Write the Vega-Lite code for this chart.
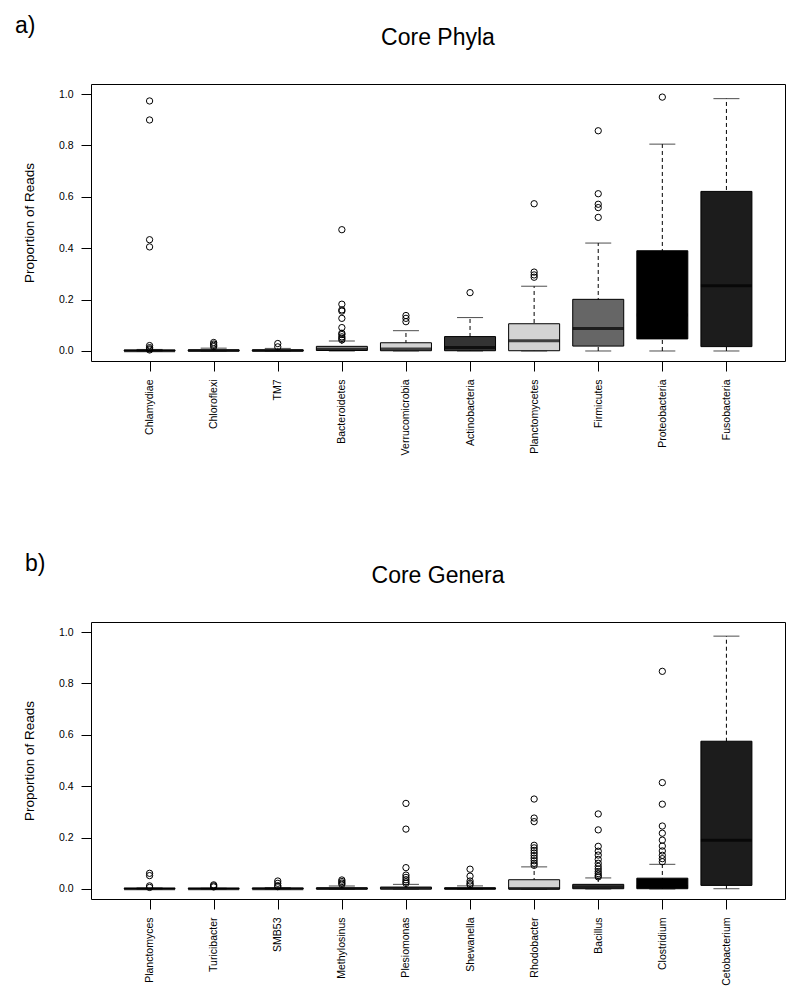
{
  "$schema": "https://vega.github.io/schema/vega-lite/v6.json",
  "padding": {"top": 14, "left": 14, "right": 5, "bottom": 5},
  "spacing": 96,
  "config": {
    "font": "Liberation Sans",
    "view": {"stroke": "black", "strokeWidth": 1},
    "axis": {"grid": false, "domain": false, "tickColor": "black", "tickSize": 10, "labelColor": "black", "titleColor": "black", "labelFont": "Liberation Sans", "labelFontSize": 10.5, "titleFont": "Liberation Sans", "titleFontWeight": "normal"},
    "title": {"fontSize": 23, "fontWeight": "normal", "color": "black", "font": "Liberation Sans"}
  },
  "datasets": {
    "boxA": [
      {"cat": "Chlamydiae", "lo": 0, "q1": 0, "med": 0.001, "q3": 0.003, "hi": 0.006, "color": "#555555"},
      {"cat": "Chloroflexi", "lo": 0, "q1": 0, "med": 0.002, "q3": 0.004, "hi": 0.011, "color": "#aaaaaa"},
      {"cat": "TM7", "lo": 0, "q1": 0, "med": 0.002, "q3": 0.004, "hi": 0.01, "color": "#888888"},
      {"cat": "Bacteroidetes", "lo": 0, "q1": 0.002, "med": 0.007, "q3": 0.018, "hi": 0.039, "color": "#999999"},
      {"cat": "Verrucomicrobia", "lo": 0, "q1": 0.001, "med": 0.008, "q3": 0.032, "hi": 0.079, "color": "#d3d3d3"},
      {"cat": "Actinobacteria", "lo": 0, "q1": 0.001, "med": 0.014, "q3": 0.056, "hi": 0.13, "color": "#333333"},
      {"cat": "Planctomycetes", "lo": 0, "q1": 0.001, "med": 0.04, "q3": 0.106, "hi": 0.252, "color": "#d3d3d3"},
      {"cat": "Firmicutes", "lo": 0, "q1": 0.019, "med": 0.087, "q3": 0.201, "hi": 0.42, "color": "#666666"},
      {"cat": "Proteobacteria", "lo": 0, "q1": 0.047, "med": 0.14, "q3": 0.39, "hi": 0.805, "color": "#000000"},
      {"cat": "Fusobacteria", "lo": 0, "q1": 0.017, "med": 0.254, "q3": 0.621, "hi": 0.982, "color": "#1c1c1c"}
    ],
    "outA": [
      {"cat": "Chlamydiae", "v": 0.973}, {"cat": "Chlamydiae", "v": 0.899}, {"cat": "Chlamydiae", "v": 0.433}, {"cat": "Chlamydiae", "v": 0.405}, {"cat": "Chlamydiae", "v": 0.021}, {"cat": "Chlamydiae", "v": 0.013}, {"cat": "Chlamydiae", "v": 0.008}, {"cat": "Chlamydiae", "v": 0.004},
      {"cat": "Chloroflexi", "v": 0.033}, {"cat": "Chloroflexi", "v": 0.027}, {"cat": "Chloroflexi", "v": 0.022}, {"cat": "Chloroflexi", "v": 0.017},
      {"cat": "TM7", "v": 0.029}, {"cat": "TM7", "v": 0.016},
      {"cat": "Bacteroidetes", "v": 0.472}, {"cat": "Bacteroidetes", "v": 0.182}, {"cat": "Bacteroidetes", "v": 0.16}, {"cat": "Bacteroidetes", "v": 0.155}, {"cat": "Bacteroidetes", "v": 0.127}, {"cat": "Bacteroidetes", "v": 0.091}, {"cat": "Bacteroidetes", "v": 0.069}, {"cat": "Bacteroidetes", "v": 0.064}, {"cat": "Bacteroidetes", "v": 0.055}, {"cat": "Bacteroidetes", "v": 0.049}, {"cat": "Bacteroidetes", "v": 0.043},
      {"cat": "Verrucomicrobia", "v": 0.138}, {"cat": "Verrucomicrobia", "v": 0.127}, {"cat": "Verrucomicrobia", "v": 0.114},
      {"cat": "Actinobacteria", "v": 0.227},
      {"cat": "Planctomycetes", "v": 0.573}, {"cat": "Planctomycetes", "v": 0.307}, {"cat": "Planctomycetes", "v": 0.296}, {"cat": "Planctomycetes", "v": 0.287},
      {"cat": "Firmicutes", "v": 0.857}, {"cat": "Firmicutes", "v": 0.612}, {"cat": "Firmicutes", "v": 0.571}, {"cat": "Firmicutes", "v": 0.558}, {"cat": "Firmicutes", "v": 0.52},
      {"cat": "Proteobacteria", "v": 0.988}
    ],
    "boxB": [
      {"cat": "Planctomyces", "lo": 0, "q1": 0, "med": 0.001, "q3": 0.002, "hi": 0.004, "color": "#555555"},
      {"cat": "Turicibacter", "lo": 0, "q1": 0, "med": 0.001, "q3": 0.002, "hi": 0.003, "color": "#aaaaaa"},
      {"cat": "SMB53", "lo": 0, "q1": 0, "med": 0.001, "q3": 0.003, "hi": 0.005, "color": "#888888"},
      {"cat": "Methylosinus", "lo": 0, "q1": 0, "med": 0.002, "q3": 0.004, "hi": 0.012, "color": "#999999"},
      {"cat": "Plesiomonas", "lo": 0, "q1": 0, "med": 0.003, "q3": 0.007, "hi": 0.018, "color": "#d3d3d3"},
      {"cat": "Shewanella", "lo": 0, "q1": 0, "med": 0.002, "q3": 0.004, "hi": 0.012, "color": "#333333"},
      {"cat": "Rhodobacter", "lo": 0, "q1": 0, "med": 0.002, "q3": 0.036, "hi": 0.086, "color": "#d3d3d3"},
      {"cat": "Bacillus", "lo": 0, "q1": 0.001, "med": 0.009, "q3": 0.018, "hi": 0.043, "color": "#666666"},
      {"cat": "Clostridium", "lo": 0, "q1": 0.001, "med": 0.01, "q3": 0.042, "hi": 0.096, "color": "#000000"},
      {"cat": "Cetobacterium", "lo": 0.001, "q1": 0.014, "med": 0.19, "q3": 0.575, "hi": 0.984, "color": "#1c1c1c"}
    ],
    "outB": [
      {"cat": "Planctomyces", "v": 0.061}, {"cat": "Planctomyces", "v": 0.052}, {"cat": "Planctomyces", "v": 0.012}, {"cat": "Planctomyces", "v": 0.006},
      {"cat": "Turicibacter", "v": 0.016}, {"cat": "Turicibacter", "v": 0.012}, {"cat": "Turicibacter", "v": 0.008},
      {"cat": "SMB53", "v": 0.031}, {"cat": "SMB53", "v": 0.022}, {"cat": "SMB53", "v": 0.013}, {"cat": "SMB53", "v": 0.009},
      {"cat": "Methylosinus", "v": 0.035}, {"cat": "Methylosinus", "v": 0.029}, {"cat": "Methylosinus", "v": 0.023}, {"cat": "Methylosinus", "v": 0.018},
      {"cat": "Plesiomonas", "v": 0.333}, {"cat": "Plesiomonas", "v": 0.233}, {"cat": "Plesiomonas", "v": 0.083}, {"cat": "Plesiomonas", "v": 0.054}, {"cat": "Plesiomonas", "v": 0.045}, {"cat": "Plesiomonas", "v": 0.036}, {"cat": "Plesiomonas", "v": 0.028}, {"cat": "Plesiomonas", "v": 0.022},
      {"cat": "Shewanella", "v": 0.077}, {"cat": "Shewanella", "v": 0.05}, {"cat": "Shewanella", "v": 0.031}, {"cat": "Shewanella", "v": 0.022}, {"cat": "Shewanella", "v": 0.016},
      {"cat": "Rhodobacter", "v": 0.35}, {"cat": "Rhodobacter", "v": 0.276}, {"cat": "Rhodobacter", "v": 0.262}, {"cat": "Rhodobacter", "v": 0.17}, {"cat": "Rhodobacter", "v": 0.16}, {"cat": "Rhodobacter", "v": 0.15}, {"cat": "Rhodobacter", "v": 0.14}, {"cat": "Rhodobacter", "v": 0.13}, {"cat": "Rhodobacter", "v": 0.12}, {"cat": "Rhodobacter", "v": 0.11}, {"cat": "Rhodobacter", "v": 0.1}, {"cat": "Rhodobacter", "v": 0.092},
      {"cat": "Bacillus", "v": 0.292}, {"cat": "Bacillus", "v": 0.23}, {"cat": "Bacillus", "v": 0.166}, {"cat": "Bacillus", "v": 0.147}, {"cat": "Bacillus", "v": 0.132}, {"cat": "Bacillus", "v": 0.115}, {"cat": "Bacillus", "v": 0.1}, {"cat": "Bacillus", "v": 0.088}, {"cat": "Bacillus", "v": 0.078}, {"cat": "Bacillus", "v": 0.068}, {"cat": "Bacillus", "v": 0.06}, {"cat": "Bacillus", "v": 0.052}, {"cat": "Bacillus", "v": 0.047},
      {"cat": "Clostridium", "v": 0.847}, {"cat": "Clostridium", "v": 0.414}, {"cat": "Clostridium", "v": 0.33}, {"cat": "Clostridium", "v": 0.245}, {"cat": "Clostridium", "v": 0.217}, {"cat": "Clostridium", "v": 0.19}, {"cat": "Clostridium", "v": 0.167}, {"cat": "Clostridium", "v": 0.148}, {"cat": "Clostridium", "v": 0.131}, {"cat": "Clostridium", "v": 0.118}, {"cat": "Clostridium", "v": 0.106}
    ]
  },
  "vconcat": [
    {
      "title": {"text": "a)", "anchor": "start", "offset": -11, "dx": -7},
      "vconcat": [
        {
          "title": {"text": "Core Phyla", "anchor": "middle", "offset": 34},
          "width": 694,
          "height": 277,
          "layer": [
            {
              "data": {"name": "boxA"},
              "mark": {"type": "rule", "strokeDash": [4, 3], "color": "black", "strokeWidth": 1},
              "encoding": {
                "x": {"field": "cat", "type": "nominal", "scale": {"type": "point", "padding": 0.914, "domain": ["Chlamydiae", "Chloroflexi", "TM7", "Bacteroidetes", "Verrucomicrobia", "Actinobacteria", "Planctomycetes", "Firmicutes", "Proteobacteria", "Fusobacteria"]}, "axis": {"title": null, "labelAngle": -90, "labelPadding": 8}},
                "y": {"field": "lo", "type": "quantitative", "title": "Proportion of Reads", "scale": {"domain": [-0.039, 1.039], "nice": false, "zero": false}, "axis": {"values": [0, 0.2, 0.4, 0.6, 0.8, 1.0], "format": ".1f", "labelPadding": 8, "titleFontSize": 13.5, "titlePadding": 22}},
                "y2": {"field": "hi"}
              }
            },
            {
              "data": {"name": "boxA"},
              "mark": {"type": "tick", "size": 26, "thickness": 1, "color": "black"},
              "encoding": {
                "x": {"field": "cat", "type": "nominal"},
                "y": {"field": "hi", "type": "quantitative", "title": "Proportion of Reads"}
              }
            },
            {
              "data": {"name": "boxA"},
              "mark": {"type": "tick", "size": 26, "thickness": 1, "color": "black"},
              "encoding": {
                "x": {"field": "cat", "type": "nominal"},
                "y": {"field": "lo", "type": "quantitative", "title": "Proportion of Reads"}
              }
            },
            {
              "data": {"name": "boxA"},
              "mark": {"type": "bar", "width": 51, "stroke": "black", "strokeWidth": 1},
              "encoding": {
                "x": {"field": "cat", "type": "nominal"},
                "y": {"field": "q1", "type": "quantitative", "title": "Proportion of Reads"},
                "y2": {"field": "q3"},
                "fill": {"field": "color", "type": "nominal", "scale": null}
              }
            },
            {
              "data": {"name": "boxA"},
              "mark": {"type": "tick", "size": 51, "thickness": 3, "color": "black"},
              "encoding": {
                "x": {"field": "cat", "type": "nominal"},
                "y": {"field": "med", "type": "quantitative", "title": "Proportion of Reads"}
              }
            },
            {
              "data": {"name": "outA"},
              "mark": {"type": "point", "shape": "circle", "filled": false, "size": 40, "stroke": "black", "strokeWidth": 1, "opacity": 1},
              "encoding": {
                "x": {"field": "cat", "type": "nominal"},
                "y": {"field": "v", "type": "quantitative", "title": "Proportion of Reads"}
              }
            }
          ]
        }
      ]
    },
    {
      "title": {"text": "b)", "anchor": "start", "offset": -11, "dx": 3},
      "vconcat": [
        {
          "title": {"text": "Core Genera", "anchor": "middle", "offset": 34},
          "width": 694,
          "height": 277,
          "layer": [
            {
              "data": {"name": "boxB"},
              "mark": {"type": "rule", "strokeDash": [4, 3], "color": "black", "strokeWidth": 1},
              "encoding": {
                "x": {"field": "cat", "type": "nominal", "scale": {"type": "point", "padding": 0.914, "domain": ["Planctomyces", "Turicibacter", "SMB53", "Methylosinus", "Plesiomonas", "Shewanella", "Rhodobacter", "Bacillus", "Clostridium", "Cetobacterium"]}, "axis": {"title": null, "labelAngle": -90, "labelPadding": 8}},
                "y": {"field": "lo", "type": "quantitative", "title": "Proportion of Reads", "scale": {"domain": [-0.039, 1.039], "nice": false, "zero": false}, "axis": {"values": [0, 0.2, 0.4, 0.6, 0.8, 1.0], "format": ".1f", "labelPadding": 8, "titleFontSize": 13.5, "titlePadding": 22}},
                "y2": {"field": "hi"}
              }
            },
            {
              "data": {"name": "boxB"},
              "mark": {"type": "tick", "size": 26, "thickness": 1, "color": "black"},
              "encoding": {
                "x": {"field": "cat", "type": "nominal"},
                "y": {"field": "hi", "type": "quantitative", "title": "Proportion of Reads"}
              }
            },
            {
              "data": {"name": "boxB"},
              "mark": {"type": "tick", "size": 26, "thickness": 1, "color": "black"},
              "encoding": {
                "x": {"field": "cat", "type": "nominal"},
                "y": {"field": "lo", "type": "quantitative", "title": "Proportion of Reads"}
              }
            },
            {
              "data": {"name": "boxB"},
              "mark": {"type": "bar", "width": 51, "stroke": "black", "strokeWidth": 1},
              "encoding": {
                "x": {"field": "cat", "type": "nominal"},
                "y": {"field": "q1", "type": "quantitative", "title": "Proportion of Reads"},
                "y2": {"field": "q3"},
                "fill": {"field": "color", "type": "nominal", "scale": null}
              }
            },
            {
              "data": {"name": "boxB"},
              "mark": {"type": "tick", "size": 51, "thickness": 3, "color": "black"},
              "encoding": {
                "x": {"field": "cat", "type": "nominal"},
                "y": {"field": "med", "type": "quantitative", "title": "Proportion of Reads"}
              }
            },
            {
              "data": {"name": "outB"},
              "mark": {"type": "point", "shape": "circle", "filled": false, "size": 40, "stroke": "black", "strokeWidth": 1, "opacity": 1},
              "encoding": {
                "x": {"field": "cat", "type": "nominal"},
                "y": {"field": "v", "type": "quantitative", "title": "Proportion of Reads"}
              }
            }
          ]
        }
      ]
    }
  ]
}
